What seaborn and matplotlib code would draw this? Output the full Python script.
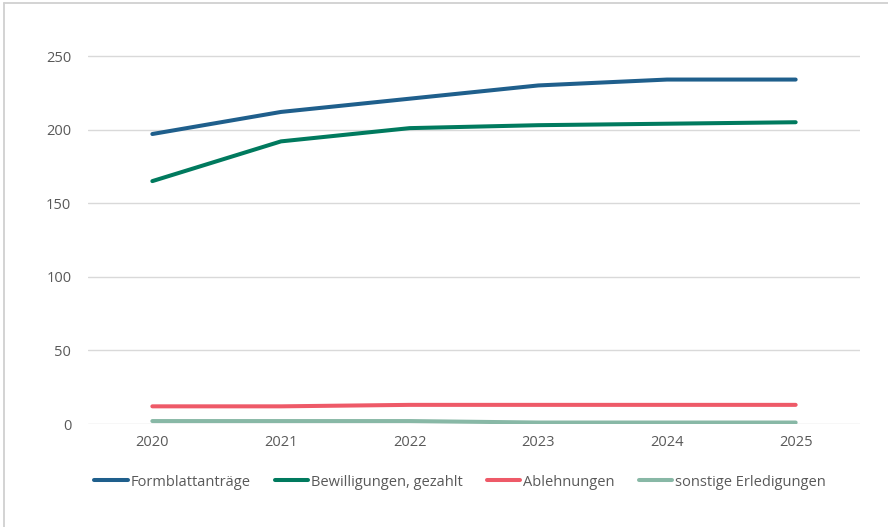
import matplotlib
matplotlib.use("Agg")
import matplotlib.pyplot as plt
import seaborn as sns
import pandas as pd
from matplotlib.lines import Line2D

years = ["2020", "2021", "2022", "2023", "2024", "2025"]
formblatt = [197, 212, 221, 230, 234, 234]
bewilligungen = [165, 192, 201, 203, 204, 205]
ablehnungen = [12, 12, 13, 13, 13, 13]
sonstige = [2, 2, 2, 1, 1, 1]

series_names = ["Formblattanträge", "Bewilligungen, gezahlt", "Ablehnungen", "sonstige Erledigungen"]
colors = ["#1F5F8C", "#007A5E", "#EE5A68", "#88B8A6"]

df = pd.DataFrame({"Jahr": years,
                   series_names[0]: formblatt,
                   series_names[1]: bewilligungen,
                   series_names[2]: ablehnungen,
                   series_names[3]: sonstige})
long = df.melt(id_vars="Jahr", var_name="Serie", value_name="Wert")

sns.set_theme(style="white")
plt.rcParams["font.family"] = ["Open Sans", "DejaVu Sans"]

fig = plt.figure(figsize=(8.88, 5.27), dpi=100)
ax = fig.add_axes([88/888, 1 - 424/527, (860-88)/888, (424-20)/527])

sns.lineplot(data=long, x="Jahr", y="Wert", hue="Serie", hue_order=series_names,
             palette=colors, linewidth=2.9, ax=ax, sort=False, legend=True,
             solid_capstyle="round")

ax.set_xlim(-0.5, 5.5)
ax.set_ylim(0, 250 * (424-20) / (424-56))
ax.set_yticks([0, 50, 100, 150, 200, 250])
ax.grid(axis="y", color="#D9D9D9", linewidth=1)
ax.set_axisbelow(True)
for s in ax.spines.values():
    s.set_visible(False)
ax.set_xlabel("")
ax.set_ylabel("")
ax.tick_params(axis="both", length=0, labelsize=10.5, labelcolor="#595959")
ax.tick_params(axis="y", pad=12)
ax.tick_params(axis="x", pad=8)

handles, labels = ax.get_legend_handles_labels()
ax.legend(handles, labels, loc="center", bbox_to_anchor=(460/888, 1 - 482/527),
          bbox_transform=fig.transFigure, ncol=4, frameon=False, fontsize=10.5,
          labelcolor="#595959", handlelength=2.3, handletextpad=0.2, columnspacing=1.65)

fig.lines.append(Line2D([4/888, 4/888], [0, 1 - 3/527], transform=fig.transFigure,
                        color="#D0D0D0", linewidth=1.3))
fig.lines.append(Line2D([4/888, 1], [1 - 3/527, 1 - 3/527], transform=fig.transFigure,
                        color="#D0D0D0", linewidth=1.3))

fig.savefig("out.png", dpi=100)
